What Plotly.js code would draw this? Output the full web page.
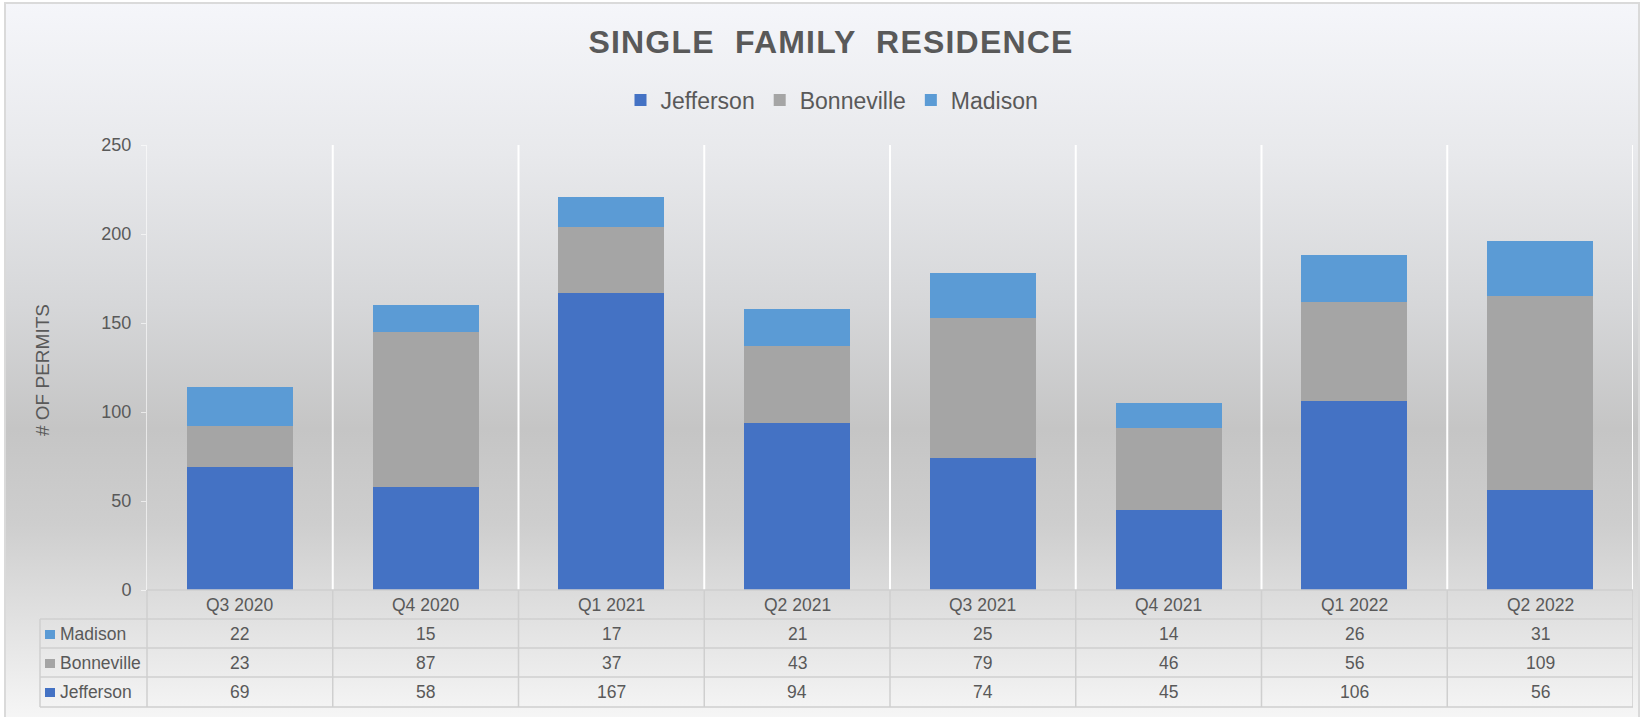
<!DOCTYPE html>
<html>
<head>
<meta charset="utf-8">
<script src="https://cdn.plot.ly/plotly-3.0.1.min.js"></script>
<style>
  html, body { margin: 0; padding: 0; width: 1643px; height: 717px; overflow: hidden; background: #ffffff; }
  #bg {
    position: absolute; left: 4px; top: 2px; width: 1636px; height: 730px;
    border: 2px solid #dadada; box-sizing: border-box;
    background: linear-gradient(to bottom, #f5f6fa 0px, #e8e9ec 150px, #d6d7d9 300px, #c5c5c5 425px, #cecece 520px, #e1e1e1 615px, #f6f6f6 715px);
  }
  #chart { position: absolute; left: 0; top: 0; width: 1643px; height: 717px; }
  .gtitle { letter-spacing: 1.2px; }
</style>
</head>
<body>
<div id="bg"></div>
<div id="chart"></div>
<script>
// ---- data ----
const categories = ['Q3 2020', 'Q4 2020', 'Q1 2021', 'Q2 2021', 'Q3 2021', 'Q4 2021', 'Q1 2022', 'Q2 2022'];
const jefferson  = [69, 58, 167, 94, 74, 45, 106, 56];
const bonneville = [23, 87, 37, 43, 79, 46, 56, 109];
const madison    = [22, 15, 17, 21, 25, 14, 26, 31];
const seriesNames = ['Jefferson', 'Bonneville', 'Madison'];
const yTicks = [0, 50, 100, 150, 200, 250];

// ---- styles / layout geometry ----
const colors = { Jefferson: '#4472C4', Bonneville: '#A5A5A5', Madison: '#5B9BD5' };
const textColor = '#595959';
const FONT = 'Liberation Sans, Arial, sans-serif';
const W = 1643, H = 717;
const L = 147, R = 1633, T = 145, B = 590;
const pyToPaper = py => (B - py) / (B - T);
const pxToPaper = px => (px - L) / (R - L);

const seriesData = { Jefferson: jefferson, Bonneville: bonneville, Madison: madison };

const traces = seriesNames.map(name => ({
  type: 'bar',
  name: name,
  x: categories,
  y: seriesData[name],
  marker: { color: colors[name], line: { width: 0 } },
  hoverinfo: 'x+y+name'
}));

// table geometry (pixel rows)
const rowLines = [590, 619, 648, 677, 707];
const catRowCenter = 605;
const tableRows = ['Madison', 'Bonneville', 'Jefferson'];
const rowCenters = [634, 663, 692];
const tableLeft = 40;
const lineColor = '#cfcfcf';

const shapes = [];
const annotations = [];

// white vertical gridlines at category boundaries
for (let i = 1; i <= categories.length; i++) {
  shapes.push({ type: 'line', xref: 'x', yref: 'paper', x0: i - 0.5, x1: i - 0.5, y0: 0, y1: 1,
    line: { color: '#ffffff', width: 2 }, layer: 'below' });
}
// table horizontal lines
shapes.push({ type: 'line', xref: 'paper', yref: 'paper', x0: 0, x1: 1, y0: pyToPaper(rowLines[0]), y1: pyToPaper(rowLines[0]),
  line: { color: lineColor, width: 1.5 } });
for (let k = 1; k < rowLines.length; k++) {
  shapes.push({ type: 'line', xref: 'paper', yref: 'paper', x0: pxToPaper(tableLeft), x1: 1,
    y0: pyToPaper(rowLines[k]), y1: pyToPaper(rowLines[k]), line: { color: lineColor, width: 1.5 } });
}
// table vertical lines
shapes.push({ type: 'line', xref: 'paper', yref: 'paper', x0: pxToPaper(tableLeft), x1: pxToPaper(tableLeft),
  y0: pyToPaper(rowLines[1]), y1: pyToPaper(rowLines[4]), line: { color: lineColor, width: 1.5 } });
shapes.push({ type: 'line', xref: 'paper', yref: 'paper', x0: 0, x1: 0,
  y0: pyToPaper(rowLines[0]), y1: pyToPaper(rowLines[4]), line: { color: lineColor, width: 1.5 } });
for (let i = 1; i <= categories.length; i++) {
  shapes.push({ type: 'line', xref: 'x', yref: 'paper', x0: i - 0.5, x1: i - 0.5,
    y0: pyToPaper(rowLines[0]), y1: pyToPaper(rowLines[4]), line: { color: lineColor, width: 1.5 } });
}

// category labels
categories.forEach((c, i) => {
  annotations.push({ xref: 'x', yref: 'paper', x: c, y: pyToPaper(catRowCenter), text: c, showarrow: false,
    xanchor: 'center', yanchor: 'middle', font: { family: FONT, size: 17.5, color: textColor } });
});
// table rows
tableRows.forEach((name, r) => {
  const yc = pyToPaper(rowCenters[r]);
  // legend key square
  shapes.push({ type: 'rect', xref: 'paper', yref: 'paper',
    x0: pxToPaper(45), x1: pxToPaper(55), y0: pyToPaper(rowCenters[r] + 5), y1: pyToPaper(rowCenters[r] - 4),
    fillcolor: colors[name], line: { width: 0 } });
  annotations.push({ xref: 'paper', yref: 'paper', x: pxToPaper(58), y: yc, text: name, showarrow: false,
    xanchor: 'left', yanchor: 'middle', font: { family: FONT, size: 17.5, color: textColor } });
  seriesData[name].forEach((v, i) => {
    annotations.push({ xref: 'x', yref: 'paper', x: categories[i], y: yc, text: String(v), showarrow: false,
      xanchor: 'center', yanchor: 'middle', font: { family: FONT, size: 17.5, color: textColor } });
  });
});
// y-axis title
annotations.push({ xref: 'paper', yref: 'paper', x: pxToPaper(42), y: pyToPaper(370), text: '# OF PERMITS',
  textangle: -90, showarrow: false, xanchor: 'center', yanchor: 'middle',
  font: { family: FONT, size: 19, color: textColor } });

const layout = {
  width: W, height: H,
  margin: { l: L, r: W - R, t: T, b: H - B, pad: 0 },
  paper_bgcolor: 'rgba(0,0,0,0)',
  plot_bgcolor: 'rgba(0,0,0,0)',
  barmode: 'stack',
  bargap: 0.43,
  font: { family: FONT, color: textColor },
  title: {
    text: 'SINGLE  FAMILY  RESIDENCE',
    xref: 'container', yref: 'container',
    x: 831 / W, y: 1 - 42 / H, xanchor: 'center', yanchor: 'middle',
    font: { family: FONT, size: 32, color: textColor, weight: 700 }
  },
  showlegend: true,
  legend: {
    orientation: 'h', traceorder: 'normal',
    xref: 'container', yref: 'container',
    x: 832 / W, y: 1 - 100 / H, xanchor: 'center', yanchor: 'middle',
    bgcolor: 'rgba(0,0,0,0)',
    font: { family: FONT, size: 23, color: textColor },
    itemwidth: 30
  },
  xaxis: {
    type: 'category',
    range: [-0.5, categories.length - 0.5],
    showticklabels: false, showgrid: false, zeroline: false, showline: false, ticks: '',
    fixedrange: true
  },
  yaxis: {
    range: [0, 250],
    tickvals: yTicks,
    showgrid: false, zeroline: false,
    showline: true, linecolor: 'rgba(255,255,255,0.6)', linewidth: 1,
    ticks: 'outside', ticklen: 5, tickcolor: 'rgba(255,255,255,0.6)', tickwidth: 1,
    ticklabelstandoff: 6,
    tickfont: { family: FONT, size: 18, color: textColor },
    fixedrange: true
  },
  shapes: shapes,
  annotations: annotations
};

Plotly.newPlot('chart', traces, layout, { displayModeBar: false, responsive: false });
</script>
</body>
</html>
